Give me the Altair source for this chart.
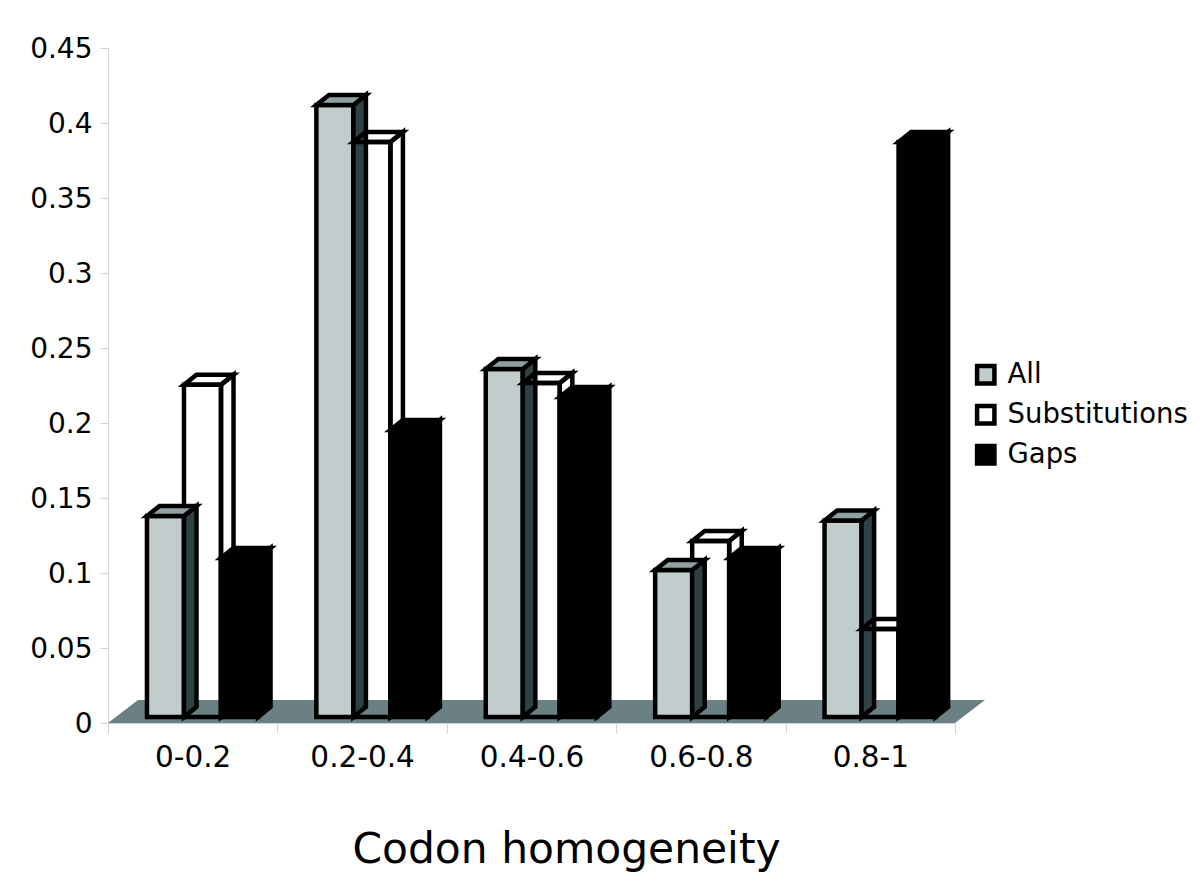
import altair as alt
import pandas as pd

categories = ["0-0.2", "0.2-0.4", "0.4-0.6", "0.6-0.8", "0.8-1"]
series_names = ["All", "Substitutions", "Gaps"]
all_values = [0.138, 0.412, 0.236, 0.102, 0.135]
sub_values = [0.2255, 0.3873, 0.2267, 0.1213, 0.0627]
gap_values = [0.110, 0.1953, 0.2173, 0.110, 0.3873]
y_ticks = [0, 0.05, 0.1, 0.15, 0.2, 0.25, 0.3, 0.35, 0.4, 0.45]

# 3D look, expressed in axis units
GROUP_OFFSET = 0.23
BAR_W = 0.2185
DEPTH_X = 0.074
DEPTH_Y = 0.0067
BASE = 0.004
FLOOR_DX = 0.177
FLOOR_DY = 0.0153
SW = 4.5

X = alt.X("x:Q", scale=alt.Scale(domain=[0, 5], nice=False, zero=False),
          axis=alt.Axis(values=[0, 1, 2, 3, 4, 5], grid=False, domainColor="#d4d4d4", tickColor="#d4d4d4",
                        tickSize=10, labelFontSize=29.5, labelFont="DejaVu Sans", labelColor="black",
                        labelPadding=10, labelOffset=84.7, labelBound=False, labelFlush=False, labelOverlap=False,
                        labelExpr="datum.value < 5 ? %s[datum.value] : ''" % str(categories),
                        title="Codon homogeneity", titleFontSize=42.4, titleFont="DejaVu Sans",
                        titleFontWeight="normal", titleColor="black", titleX=458, titleY=139,
                        titleBaseline="alphabetic"))
Y = alt.Y("y:Q", scale=alt.Scale(domain=[0, 0.45], nice=False, zero=False),
          axis=alt.Axis(values=y_ticks, grid=False, domainColor="#d4d4d4", tickColor="#d4d4d4", tickSize=8,
                        format=".2~f", labelFontSize=28, labelFont="DejaVu Sans", labelColor="black",
                        labelPadding=8, labelOffset=1, title=None))
Y2 = alt.Y2("y2:Q")


def geometry(values, idx):
    front, side, top = [], [], []
    for i, v in enumerate(values):
        x0 = i + GROUP_OFFSET + idx * BAR_W
        x1 = x0 + BAR_W
        front.append({"x": x0, "x2": x1, "y": v, "y2": BASE, "series": series_names[idx]})
        side += [{"x": x1, "y": v, "y2": BASE, "g": i},
                 {"x": x1 + DEPTH_X, "y": v + DEPTH_Y, "y2": BASE + DEPTH_Y, "g": i}]
        top += [{"x": x0, "y": v, "y2": v, "g": i},
                {"x": x0 + DEPTH_X, "y": v + DEPTH_Y, "y2": v, "g": i},
                {"x": x1, "y": v + DEPTH_Y, "y2": v, "g": i},
                {"x": x1 + DEPTH_X, "y": v + DEPTH_Y, "y2": v + DEPTH_Y, "g": i}]
    return pd.DataFrame(front), pd.DataFrame(side), pd.DataFrame(top)


color = alt.Color("series:N", sort=series_names,
                  scale=alt.Scale(domain=series_names, range=["#c1cdcd", "transparent", "#000000"]),
                  legend=alt.Legend(orient="none", legendX=864, legendY=313, title=None, symbolType="square",
                                    symbolSize=300, symbolStrokeColor="black", symbolStrokeWidth=4.5,
                                    labelFontSize=27.5, labelFont="DejaVu Sans", labelColor="black",
                                    rowPadding=4, labelOffset=8, labelLimit=300, padding=0))


def front_layer(df):
    return alt.Chart(df).mark_bar(stroke="black", strokeWidth=SW, clip=False).encode(
        x=X, x2=alt.X2("x2:Q"), y=Y, y2=Y2, color=color)


def area_layer(df, fill):
    return alt.Chart(df).mark_area(fill=fill, stroke="black", strokeWidth=SW, interpolate="linear").encode(
        x=X, y=Y, y2=Y2, detail="g:N")


floor_df = pd.DataFrame({
    "x": [0, FLOOR_DX, 5, 5 + FLOOR_DX],
    "y": [0, FLOOR_DY, FLOOR_DY, FLOOR_DY],
    "y2": [0, 0, 0, FLOOR_DY],
})
floor = alt.Chart(floor_df).mark_area(color="#6b8082", interpolate="linear").encode(x=X, y=Y, y2=Y2)

af, asd, atp = geometry(all_values, 0)
sf, ssd, stp = geometry(sub_values, 1)
gf, gsd, gtp = geometry(gap_values, 2)

chart = alt.layer(
    floor,
    front_layer(sf), area_layer(ssd, "transparent"),
    front_layer(af), area_layer(asd, "#2e4244"), area_layer(atp, "#8fa0a2"),
    area_layer(stp, "transparent"),
    front_layer(gf), area_layer(gsd, "#000000"), area_layer(gtp, "#000000"),
).properties(
    width=847, height=675,
    padding={"left": 100, "top": 40, "right": 237, "bottom": 160},
    autosize=alt.AutoSizeParams(type="none"),
    background="white",
).configure_view(stroke=None)

chart.save("out.html", embed_options={"renderer": "svg", "actions": False})
